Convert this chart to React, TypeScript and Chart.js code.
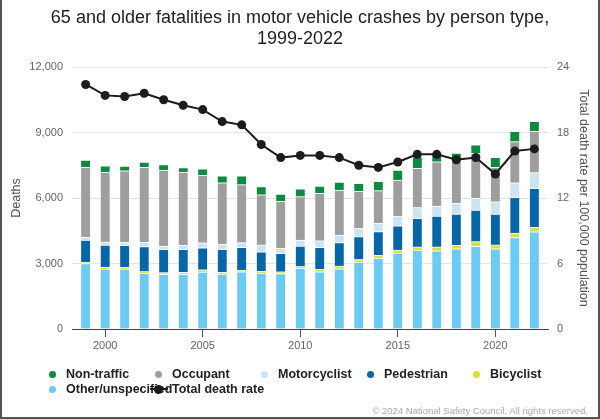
import React, { useEffect, useRef } from "react";
import { Chart, registerables } from "chart.js";

Chart.register(...registerables);

// ---------- data ----------
const years = [1999, 2000, 2001, 2002, 2003, 2004, 2005, 2006, 2007, 2008, 2009, 2010, 2011, 2012, 2013, 2014, 2015, 2016, 2017, 2018, 2019, 2020, 2021, 2022];
const otherUnspecified = [3000, 2750, 2740, 2550, 2500, 2500, 2610, 2500, 2620, 2560, 2540, 2790, 2620, 2760, 3060, 3240, 3480, 3610, 3580, 3670, 3790, 3670, 4190, 4450];
const bicyclist = [60, 90, 90, 80, 80, 90, 100, 90, 80, 80, 80, 70, 110, 120, 120, 130, 140, 150, 180, 160, 210, 180, 200, 210];
const pedestrian = [1010, 1000, 1000, 1140, 1070, 1060, 1010, 1060, 1040, 900, 845, 940, 1010, 1075, 1050, 1090, 1110, 1310, 1415, 1435, 1450, 1415, 1640, 1785];
const motorcyclist = [130, 150, 150, 200, 150, 180, 230, 240, 215, 310, 230, 275, 300, 350, 380, 380, 445, 490, 455, 490, 535, 565, 670, 715];
const occupant = [3205, 3200, 3270, 3430, 3480, 3360, 3085, 2810, 2655, 2300, 2155, 1985, 2170, 2060, 1695, 1495, 1650, 1800, 2030, 1985, 2060, 1575, 1880, 1895];
const nonTraffic = [335, 280, 215, 250, 245, 200, 300, 310, 400, 370, 330, 365, 335, 365, 365, 430, 455, 530, 415, 320, 395, 455, 475, 455];
const totalDeathRate = [22.4, 21.4, 21.3, 21.6, 21.0, 20.5, 20.1, 19.0, 18.7, 16.9, 15.7, 15.9, 15.9, 15.7, 15.0, 14.8, 15.3, 16.0, 16.0, 15.5, 15.7, 14.2, 16.3, 16.5];

const deathTicks = [0, 3000, 6000, 9000, 12000];
const rateTicks = [0, 6, 12, 18, 24];
const yearTicks = [2000, 2005, 2010, 2015, 2020];

const titleLines = ["65 and older fatalities in motor vehicle crashes by person type,", "1999-2022"];
const leftAxisTitle = "Deaths";
const rightAxisTitle = "Total death rate per 100,000 population";
const credit = "\u00a9 2024 National Safety Council. All rights reserved.";

const FONT = "'Liberation Sans', Arial, Helvetica, sans-serif";

const COLORS = {
  nonTraffic: "#0b8a40",
  occupant: "#9e9e9e",
  motorcyclist: "#cbe4f2",
  pedestrian: "#0766a8",
  bicyclist: "#d6e23a",
  other: "#6ccbf2",
  rate: "#1c1c1c",
};

// stacking order: bottom to top
const barSeries = [
  { label: "Other/unspecified", data: otherUnspecified, color: COLORS.other },
  { label: "Bicyclist", data: bicyclist, color: COLORS.bicyclist },
  { label: "Pedestrian", data: pedestrian, color: COLORS.pedestrian },
  { label: "Motorcyclist", data: motorcyclist, color: COLORS.motorcyclist },
  { label: "Occupant", data: occupant, color: COLORS.occupant },
  { label: "Non-traffic", data: nonTraffic, color: COLORS.nonTraffic },
];

const legendItems = [
  { label: "Non-traffic", color: COLORS.nonTraffic, line: false },
  { label: "Occupant", color: COLORS.occupant, line: false },
  { label: "Motorcyclist", color: COLORS.motorcyclist, line: false },
  { label: "Pedestrian", color: COLORS.pedestrian, line: false },
  { label: "Bicyclist", color: COLORS.bicyclist, line: false },
  { label: "Other/unspecified", color: COLORS.other, line: false },
  { label: "Total death rate", color: COLORS.rate, line: true },
];

export default function App() {
  const canvasRef = useRef<HTMLCanvasElement | null>(null);

  useEffect(() => {
    document.body.style.margin = "0";
    const canvas = canvasRef.current;
    if (!canvas) return;

    const datasets: any[] = [
      {
        type: "line",
        label: "Total death rate",
        data: years.map((yr, i) => ({ x: yr, y: totalDeathRate[i] })),
        yAxisID: "y2",
        xAxisID: "x",
        order: -1,
        borderColor: COLORS.rate,
        backgroundColor: COLORS.rate,
        borderWidth: 2,
        pointRadius: 4.5,
        pointBackgroundColor: COLORS.rate,
        pointBorderColor: COLORS.rate,
        pointBorderWidth: 0,
        tension: 0,
      },
      ...barSeries.map((s) => ({
        type: "bar",
        label: s.label,
        data: years.map((yr, i) => ({ x: yr, y: s.data[i] })),
        backgroundColor: s.color,
        borderColor: "#ffffff",
        borderWidth: { top: 1, left: 0, right: 0, bottom: 0 },
        borderSkipped: false,
        barThickness: 9,
        stack: "deaths",
        yAxisID: "y",
        xAxisID: "x",
        order: 0,
      })),
    ];

    const chart = new Chart(canvas, {
      type: "bar",
      data: { datasets },
      options: {
        responsive: false,
        animation: false,
        layout: { padding: { top: 67, left: 0, right: 0, bottom: 60 } },
        plugins: {
          legend: { display: false },
          title: { display: false },
          tooltip: { enabled: false },
        },
        scales: {
          x: {
            type: "linear",
            min: 1998.3,
            max: 2022.7,
            offset: false,
            stacked: true,
            afterBuildTicks: (s: any) => {
              s.ticks = yearTicks.map((v) => ({ value: v }));
            },
            afterFit: (s: any) => {
              s.height = 30;
            },
            grid: {
              display: true,
              drawOnChartArea: false,
              drawTicks: true,
              tickLength: 8,
              tickColor: "#555",
              offset: false,
            },
            border: { display: true, color: "#444", width: 1 },
            ticks: {
              color: "#666",
              font: { size: 11, family: FONT },
              padding: 2,
              maxRotation: 0,
              autoSkip: false,
              callback: (v: any) => String(v),
            },
          },
          y: {
            type: "linear",
            position: "left",
            min: 0,
            max: 12000,
            stacked: true,
            afterBuildTicks: (s: any) => {
              s.ticks = deathTicks.map((v) => ({ value: v }));
            },
            afterFit: (s: any) => {
              s.width = 72;
            },
            grid: { color: "#e4e4e4", drawTicks: false, lineWidth: 1 },
            border: { display: false },
            ticks: {
              color: "#666",
              font: { size: 11, family: FONT },
              padding: 9,
              callback: (v: any) => Number(v).toLocaleString("en-US"),
            },
            title: {
              display: true,
              text: leftAxisTitle,
              color: "#555",
              font: { size: 12.5, family: FONT },
              padding: { top: 9, bottom: 0 },
            },
          },
          y2: {
            type: "linear",
            position: "right",
            min: 0,
            max: 24,
            afterBuildTicks: (s: any) => {
              s.ticks = rateTicks.map((v) => ({ value: v }));
            },
            afterFit: (s: any) => {
              s.width = 52;
            },
            grid: { display: false, drawTicks: false },
            border: { display: false },
            ticks: {
              color: "#666",
              font: { size: 11, family: FONT },
              padding: 9,
              callback: (v: any) => String(v),
            },
            title: {
              display: true,
              text: rightAxisTitle,
              color: "#555",
              font: { size: 12.5, family: FONT },
              padding: { top: 9, bottom: 0 },
            },
          },
        },
      } as any,
    });

    return () => chart.destroy();
  }, []);

  const colW = 106;
  const dotX0 = 52.8;
  const textX0 = 66;
  const rowY = [374, 389];

  return (
    <div
      style={{
        position: "relative",
        width: 600,
        height: 419,
        overflow: "hidden",
        background: "#fff",
        fontFamily: FONT,
      }}
    >
      <canvas ref={canvasRef} width={600} height={419} style={{ position: "absolute", left: 0, top: 0, width: 600, height: 419 }} />
      <div
        style={{
          position: "absolute",
          left: 0,
          top: 6.5,
          width: 600,
          textAlign: "center",
          fontSize: 18,
          lineHeight: "21px",
          color: "#222",
        }}
      >
        {titleLines.map((t, i) => (
          <div key={i}>{t}</div>
        ))}
      </div>
      {legendItems.map((item, i) => {
        const col = i % 5;
        const row = Math.floor(i / 5);
        const cx = dotX0 + col * colW;
        const cy = rowY[row];
        return (
          <React.Fragment key={item.label}>
            <span
              style={{
                position: "absolute",
                left: textX0 + col * colW,
                top: cy - 8,
                height: 16,
                lineHeight: "16px",
                fontSize: 12.5,
                fontWeight: "bold",
                color: "#222",
                whiteSpace: "nowrap",
              }}
            >
              {item.label}
            </span>
            {item.line && (
              <div
                style={{
                  position: "absolute",
                  left: cx - 9,
                  top: cy - 1,
                  width: 18,
                  height: 2,
                  background: item.color,
                }}
              />
            )}
            <div
              style={{
                position: "absolute",
                left: cx - (item.line ? 4.5 : 3.5),
                top: cy - (item.line ? 4.5 : 3.5),
                width: item.line ? 9 : 7,
                height: item.line ? 9 : 7,
                borderRadius: "50%",
                background: item.color,
              }}
            />
          </React.Fragment>
        );
      })}
      <div
        style={{
          position: "absolute",
          right: 12,
          top: 404,
          fontSize: 9.5,
          lineHeight: "13px",
          color: "#aaa",
          whiteSpace: "nowrap",
        }}
      >
        {credit}
      </div>
      <div
        style={{
          position: "absolute",
          left: 0,
          top: 0,
          width: 600,
          height: 419,
          boxSizing: "border-box",
          borderLeft: "2px solid #555",
          borderRight: "2px solid #555",
          borderBottom: "2px solid #555",
          pointerEvents: "none",
        }}
      />
    </div>
  );
}
